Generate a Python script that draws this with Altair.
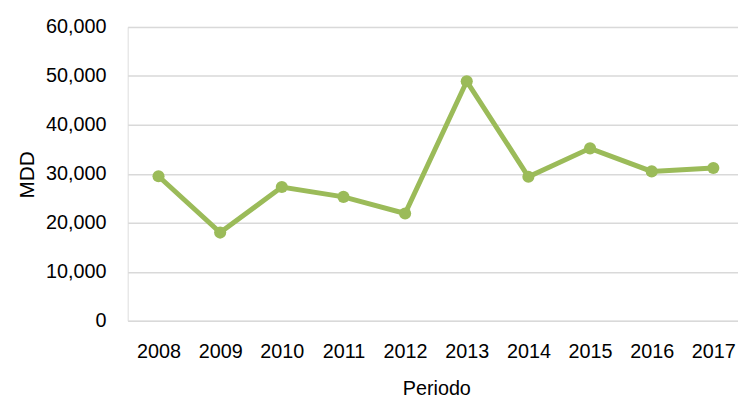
import altair as alt
import pandas as pd

years = [2008, 2009, 2010, 2011, 2012, 2013, 2014, 2015, 2016, 2017]
mdd = [29500, 18000, 27300, 25300, 21900, 48900, 29400, 35200, 30500, 31200]

df = pd.DataFrame({"Periodo": years, "MDD": mdd})

FONT = "Liberation Sans"
FS = 20
COLOR = "#9BBB59"

x = alt.X(
    "Periodo:Q",
    scale=alt.Scale(domain=[2007.5, 2017.4], nice=False, zero=False),
    axis=alt.Axis(
        values=years,
        format="d",
        grid=False,
        domain=False,
        ticks=False,
        labelFontSize=FS,
        labelFont=FONT,
        labelColor="#000000",
        labelBaseline="alphabetic",
        labelPadding=37,
        labelFlush=False,
        labelOverlap=False,
        title="Periodo",
        titleFont=FONT,
        titleFontSize=FS,
        titleFontWeight="normal",
        titleColor="#000000",
        titleBaseline="alphabetic",
        titleAlign="center",
        titleAnchor="start",
        titleX=312,
        titleY=75,
    ),
)

y = alt.Y(
    "MDD:Q",
    scale=alt.Scale(domain=[0, 60000], nice=False),
    axis=alt.Axis(
        values=[0, 10000, 20000, 30000, 40000, 50000, 60000],
        format=",d",
        grid=True,
        gridColor="#d9d9d9",
        gridWidth=1.5,
        domain=False,
        ticks=False,
        labelFontSize=FS,
        labelFont=FONT,
        labelColor="#000000",
        labelPadding=22,
        labelBaseline="middle",
        labelFlush=False,
        title="MDD",
        titleFont=FONT,
        titleFontSize=21,
        titleFontWeight="normal",
        titleColor="#000000",
        titleAngle=270,
        titleBaseline="alphabetic",
        titleAlign="center",
        titleAnchor="start",
        titleX=-95,
        titleY=149,
    ),
)

line = alt.Chart(df).mark_line(color=COLOR, strokeWidth=5).encode(x=x, y=y)
pts = alt.Chart(df).mark_circle(color=COLOR, size=150, opacity=1).encode(x=x, y=y)

chart = (
    alt.layer(line, pts)
    .properties(
        width=617,
        height=297,
        autosize=alt.AutoSizeParams(type="none"),
        padding={"left": 121, "top": 17, "right": 0, "bottom": 78},
    )
    .configure_view(stroke=None)
    .configure(background="white")
)

chart.save("out.html", embed_options={"renderer": "svg", "actions": False})
